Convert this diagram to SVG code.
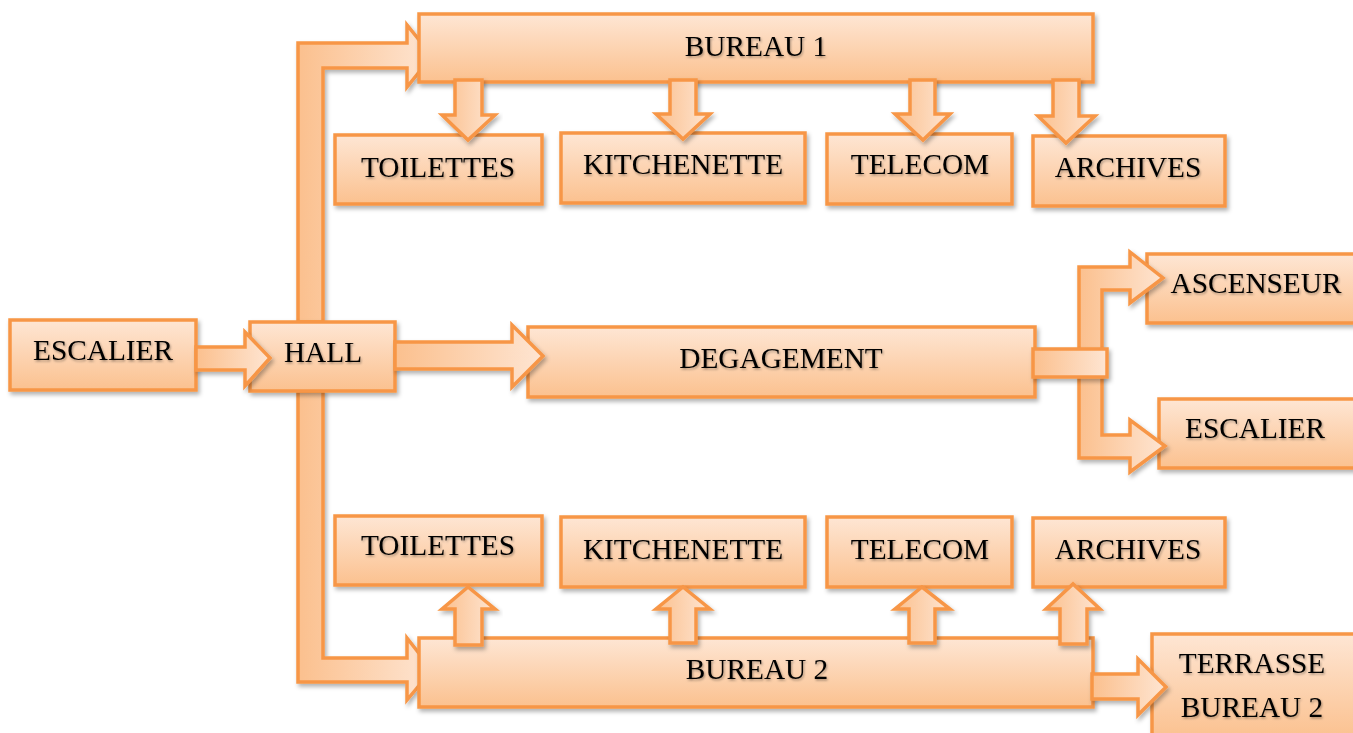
<svg xmlns="http://www.w3.org/2000/svg" width="1353" height="733" viewBox="0 0 1353 733">
<defs>
<linearGradient id="gBox" x1="0" y1="0" x2="0" y2="1">
<stop offset="0" stop-color="#fee6d4"/>
<stop offset="1" stop-color="#fbc18f"/>
</linearGradient>
<linearGradient id="gArr" x1="0" y1="0" x2="1" y2="0">
<stop offset="0" stop-color="#fbc08e"/>
<stop offset="1" stop-color="#fee5d2"/>
</linearGradient>
<filter id="sh" x="-10%" y="-10%" width="125%" height="140%">
<feDropShadow dx="2" dy="3" stdDeviation="2" flood-color="#000" flood-opacity="0.3"/>
</filter>
<filter id="tsh" x="-5%" y="-20%" width="115%" height="150%">
<feDropShadow dx="1" dy="1.5" stdDeviation="0.8" flood-color="#000" flood-opacity="0.35"/>
</filter>
</defs>
<style>
.box{fill:url(#gBox);stroke:#f79646;stroke-width:3.5;filter:url(#sh)}
.arr{fill:url(#gArr);stroke:#f79646;stroke-width:3.5;stroke-linejoin:miter;filter:url(#sh)}
.t{font-family:"Liberation Serif","Times New Roman",serif;font-size:29.3px;fill:#000;text-anchor:middle;filter:url(#tsh)}
</style>
<rect width="1353" height="733" fill="#fff"/>

<g id="hall-branches">
<polygon class="arr" points="298,322 298,43 407,43 407,25 432,56 407,87 407,68 323,68 323,322"/>
<polygon class="arr" points="298,391 298,682 407,682 407,700 432,670 407,638 407,658 323,658 323,391"/>
</g>

<g id="n-bureau1"><rect class="box" x="419" y="14" width="674" height="68"/><text class="t" x="756" y="56">BUREAU 1</text></g>
<g id="n-toilettes1"><rect class="box" x="335" y="135" width="207" height="69"/><text class="t" x="438" y="177">TOILETTES</text></g>
<g id="n-kitchenette1"><rect class="box" x="561" y="133" width="244" height="70"/><text class="t" x="683" y="174">KITCHENETTE</text></g>
<g id="n-telecom1"><rect class="box" x="827" y="134" width="185" height="70"/><text class="t" x="920" y="174">TELECOM</text></g>
<g id="n-archives1"><rect class="box" x="1033" y="136" width="192" height="70"/><text class="t" x="1128" y="177">ARCHIVES</text></g>

<g id="n-escalier"><rect class="box" x="10" y="320" width="186" height="70"/><text class="t" x="103" y="360">ESCALIER</text></g>
<g id="n-hall"><rect class="box" x="250" y="322" width="145" height="69"/><text class="t" x="323" y="362">HALL</text></g>
<g id="n-degagement"><rect class="box" x="528" y="327" width="507" height="70"/><text class="t" x="781" y="368">DEGAGEMENT</text></g>
<g id="n-ascenseur"><rect class="box" x="1147" y="254" width="210" height="69"/><text class="t" x="1256" y="293">ASCENSEUR</text></g>
<g id="n-escalier2"><rect class="box" x="1159" y="399" width="198" height="69"/><text class="t" x="1255" y="438">ESCALIER</text></g>

<g id="n-toilettes2"><rect class="box" x="335" y="516" width="207" height="69"/><text class="t" x="438" y="555">TOILETTES</text></g>
<g id="n-kitchenette2"><rect class="box" x="561" y="517" width="244" height="70"/><text class="t" x="683" y="559">KITCHENETTE</text></g>
<g id="n-telecom2"><rect class="box" x="827" y="517" width="185" height="70"/><text class="t" x="920" y="559">TELECOM</text></g>
<g id="n-archives2"><rect class="box" x="1033" y="518" width="192" height="69"/><text class="t" x="1128" y="559">ARCHIVES</text></g>
<g id="n-bureau2"><rect class="box" x="419" y="638" width="674" height="69"/><text class="t" x="757" y="679">BUREAU 2</text></g>
<g id="n-terrasse"><rect class="box" x="1152" y="634" width="205" height="105"/><text class="t" x="1252" y="673">TERRASSE</text><text class="t" x="1252" y="717">BUREAU 2</text></g>

<g id="connectors">
<polygon class="arr" points="196,347 245,347 245,332 270,358 245,386 245,370 196,370"/>
<polygon class="arr" points="395,342 512,342 512,325 543,356 512,387 512,369 395,369"/>
<polygon class="arr" points="1079,458 1079,267 1130,267 1130,252 1163,278 1130,303 1130,290 1102,290 1102,435 1130,435 1130,420 1165,446 1130,472 1130,458"/>
<rect class="arr" x="1033" y="349" width="74" height="28"/>

<polygon class="arr" points="455,80 482,80 482,115 495,115 468,140 442,115 455,115"/>
<polygon class="arr" points="670,80 696,80 696,114 710,114 683,139 656,114 670,114"/>
<polygon class="arr" points="910,80 935,80 935,114 950,114 923,140 895,114 910,114"/>
<polygon class="arr" points="1053,80 1079,80 1079,116 1095,116 1066,143 1038,116 1053,116"/>

<polygon class="arr" points="455,645 482,645 482,609 495,609 468,587 442,609 455,609"/>
<polygon class="arr" points="670,643 696,643 696,609 710,609 683,587 656,609 670,609"/>
<polygon class="arr" points="909,643 935,643 935,609 950,609 922,587 895,609 909,609"/>
<polygon class="arr" points="1060,644 1087,644 1087,609 1100,609 1073,584 1046,609 1060,609"/>

<polygon class="arr" points="1092,674 1138,674 1138,659 1166,687 1138,715 1138,699 1092,699"/>
</g>
</svg>
